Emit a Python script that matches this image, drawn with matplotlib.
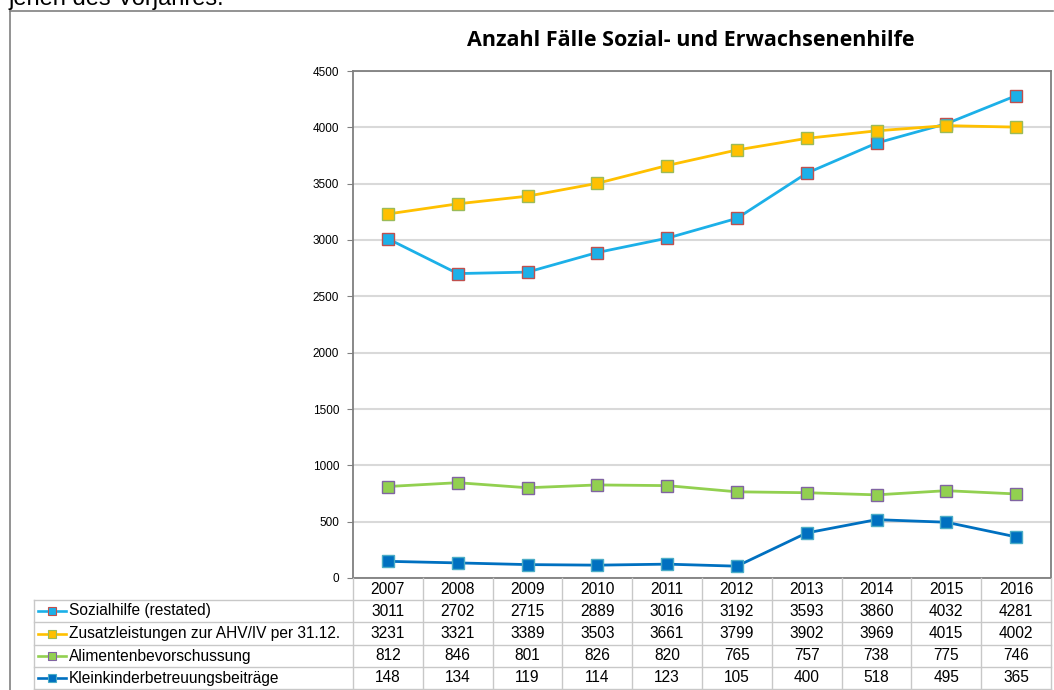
import matplotlib
matplotlib.use("Agg")
from matplotlib import pyplot as plt
from matplotlib.lines import Line2D

plt.rcParams['font.family'] = ['Liberation Sans', 'DejaVu Sans']

years = [2007, 2008, 2009, 2010, 2011, 2012, 2013, 2014, 2015, 2016]
sozialhilfe = [3011, 2702, 2715, 2889, 3016, 3192, 3593, 3860, 4032, 4281]
zusatzleistungen = [3231, 3321, 3389, 3503, 3661, 3799, 3902, 3969, 4015, 4002]
alimente = [812, 846, 801, 826, 820, 765, 757, 738, 775, 746]
kleinkinder = [148, 134, 119, 114, 123, 105, 400, 518, 495, 365]

labels = ['Sozialhilfe (restated)', 'Zusatzleistungen zur AHV/IV per 31.12.',
          'Alimentenbevorschussung', 'Kleinkinderbetreuungsbeiträge']
series = [sozialhilfe, zusatzleistungen, alimente, kleinkinder]
line_colors = ['#1CB0E8', '#FFC000', '#92D050', '#0070C0']
edge_colors = ['#C0504D', '#9BBB59', '#8064A2', '#4BACC6']

W, H = 1054, 690
fig = plt.figure(figsize=(W / 100, H / 100), dpi=100)


def fx(px):
    return px / W


def fy(py):
    return 1 - py / H


# outer frame of the chart and the cut-off text line above it
fig.add_artist(Line2D([fx(10), fx(10)], [fy(11), fy(690)], color='#808080', lw=1.2))
fig.add_artist(Line2D([fx(10), fx(1053)], [fy(11), fy(11)], color='#808080', lw=1.2))
fig.text(fx(9), fy(5), 'jenen des Vorjahres.', fontsize=17, va='baseline', ha='left')

# plot area
left, right, top, bottom = 353, 1051, 71, 578
ax = fig.add_axes([fx(left), fy(bottom), fx(right - left), (bottom - top) / H])
x = list(range(len(years)))
for vals, lc, ec in zip(series, line_colors, edge_colors):
    ax.plot(x, vals, color=lc, lw=2.0, marker='s', markersize=8,
            markerfacecolor=lc, markeredgecolor=ec, markeredgewidth=1.0)

ax.set_xlim(-0.5, len(years) - 0.5)
ax.set_ylim(0, 4500)
ax.set_yticks(range(0, 4501, 500))
ax.set_xticks([])
ax.tick_params(axis='y', labelsize=8.5, length=4, color='#808080', pad=6)
ax.grid(axis='y', color='#D9D9D9', lw=1.5)
ax.set_axisbelow(True)
for s in ax.spines.values():
    s.set_color('#7F7F7F')
    s.set_linewidth(1.3)

fig.text(fx(691), fy(40), 'Anzahl Fälle Sozial- und Erwachsenenhilfe',
         fontsize=15.5, fontweight='bold', ha='center', va='center',
         family=['Open Sans', 'DejaVu Sans'])

# data table below the plot
grid_c = '#C8C8C8'
col_w = (right - left) / len(years)
row_edges = [578, 600, 622, 645, 667, 689]
tleft = 34
for r in row_edges[1:]:
    fig.add_artist(Line2D([fx(tleft), fx(right)], [fy(r), fy(r)], color=grid_c, lw=1.0))
for i in range(len(years) + 1):
    xp = left + i * col_w
    fig.add_artist(Line2D([fx(xp), fx(xp)], [fy(578), fy(689)], color=grid_c, lw=1.0))
fig.add_artist(Line2D([fx(tleft), fx(tleft)], [fy(600), fy(689)], color=grid_c, lw=1.0))

fs = 11.2
for i, yr in enumerate(years):
    cx = left + (i + 0.5) * col_w
    fig.text(fx(cx), fy((row_edges[0] + row_edges[1]) / 2), str(yr),
             ha='center', va='center', fontsize=fs)
    for j, vals in enumerate(series):
        cy = (row_edges[j + 1] + row_edges[j + 2]) / 2
        fig.text(fx(cx), fy(cy), str(vals[i]), ha='center', va='center', fontsize=fs)

for j, (lab, lc, ec) in enumerate(zip(labels, line_colors, edge_colors)):
    cy = (row_edges[j + 1] + row_edges[j + 2]) / 2
    fig.add_artist(Line2D([fx(38), fx(66)], [fy(cy), fy(cy)], color=lc, lw=1.9))
    fig.add_artist(Line2D([fx(52)], [fy(cy)], marker='s', markersize=6,
                          markerfacecolor=lc, markeredgecolor=ec, markeredgewidth=0.8))
    fig.text(fx(69), fy(cy), lab, ha='left', va='center', fontsize=fs)

fig.savefig('out.png', dpi=100)
